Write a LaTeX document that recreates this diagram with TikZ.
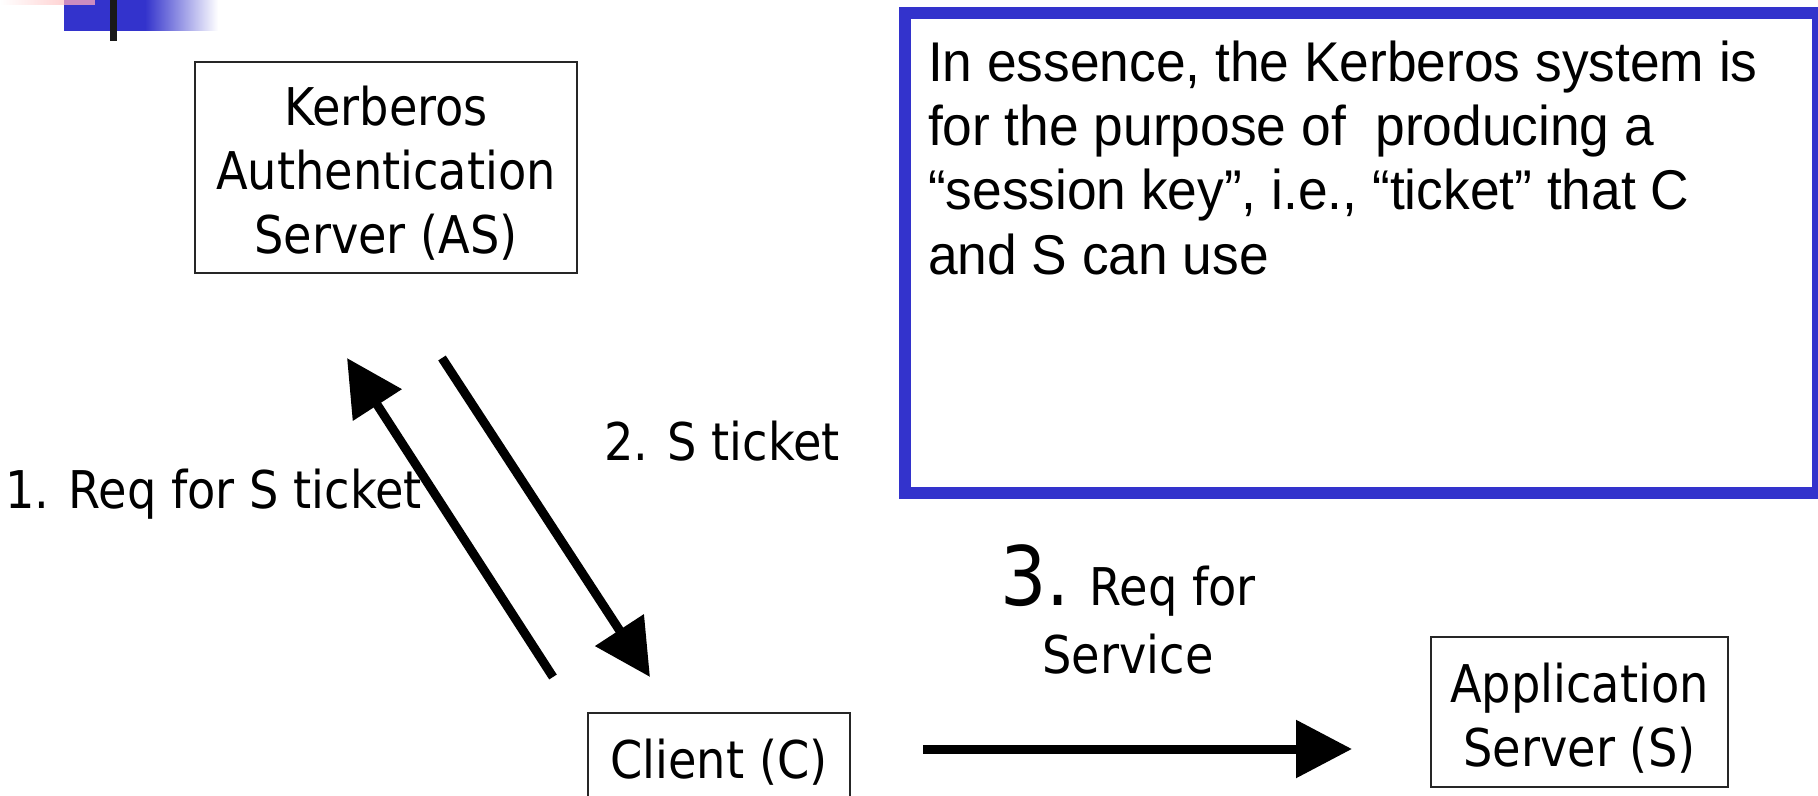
\documentclass[tikz,border=0pt]{standalone}
\usepackage{fontspec}
\usetikzlibrary{arrows.meta}
\newfontfamily\labelfont[FakeStretch=0.89]{DejaVu Sans}
\newfontfamily\notefont[FakeStretch=0.952]{Liberation Sans}
\newcommand\labelsize{\labelfont\fontsize{52bp}{64bp}\selectfont}
\newcommand\stepsize{\labelfont\fontsize{82bp}{86bp}\selectfont}
\newcommand\notesize{\notefont\fontsize{56bp}{63.7bp}\selectfont}
% extra height on a first line, to lower a centred block of text
\newcommand\firstline{\rule{0pt}{51.5bp}}
\definecolor{slideblue}{RGB}{51,51,204}
\definecolor{slidepink}{RGB}{255,212,212}
\definecolor{pinkblue}{RGB}{204,140,192}
\begin{document}
\begin{tikzpicture}[x=1bp, y=-1bp,
  srvbox/.style={draw=black!85, line width=1.8bp, inner sep=0pt, outer sep=0pt,
                 align=center, font=\labelsize},
  lbl/.style={inner sep=0pt, outer sep=0pt, font=\labelsize},
  notetext/.style={inner sep=0pt, outer sep=0pt, font=\notesize, anchor=base west},
  msgarrow/.style={line width=9bp, -{Triangle[length=56bp,width=56bp]}},
  ]
\useasboundingbox (0,0) rectangle (1818,796);
\clip (0,0) rectangle (1818,796);

% slide header ornament
\shade[left color=white, right color=slidepink] (0,0) rectangle (64,5);
\fill[slideblue] (64,0) rectangle (145,31);
\shade[left color=slideblue, right color=white] (145,0) rectangle (218,31);
\fill[pinkblue] (64,0) rectangle (95,5);
\fill[black!90] (110,0) rectangle (117,41);

% note box
\node[draw=slideblue, line width=12bp, minimum width=913bp, minimum height=480bp,
      anchor=north west, inner sep=0pt, outer sep=0pt] (note) at (905,13) {};
\node[notetext] (n1) at (928,82) {In essence, the Kerberos system is};
\node[notetext] (n2) at (928,145.7) {for the purpose of\ \ producing a};
\node[notetext] (n3) at (928,209.4) {“session key”, i.e., “ticket” that C};
\node[notetext] (n4) at (928,274) {and S can use};

% servers and client
\node[srvbox, minimum width=382bp, minimum height=211bp] (as) at (386,167.5)
  {\firstline Kerberos\\Authentication\\Server (AS)};
\node[srvbox, minimum width=262bp, minimum height=97.5bp, anchor=north] (client) at (719,713)
  {Client (C)};
\node[srvbox, minimum width=297bp, minimum height=150bp] (app) at (1579.5,712)
  {\firstline Application\\Server (S)};

% message arrows
\coordinate (r1s) at (553,677);  \coordinate (r1e) at (347,358);
\coordinate (r2s) at (442,358);  \coordinate (r2e) at (650,677);
\coordinate (r3s) at (923,749);  \coordinate (r3e) at (1352,749);
\draw[msgarrow] (r1s) -- (r1e);
\draw[msgarrow] (r2s) -- (r2e);
\draw[msgarrow] (r3s) -- (r3e);

% message labels
\node[lbl, anchor=base west] (l1) at (5,508) {1. Req for S ticket};
\node[lbl, anchor=base west] (l2) at (604,460) {2. S ticket};
\node[lbl, anchor=base] (l3) at (1128,605) {{\stepsize 3.} Req for};
\node[lbl, anchor=base] (l3b) at (1128,673) {Service};
\end{tikzpicture}
\end{document}
